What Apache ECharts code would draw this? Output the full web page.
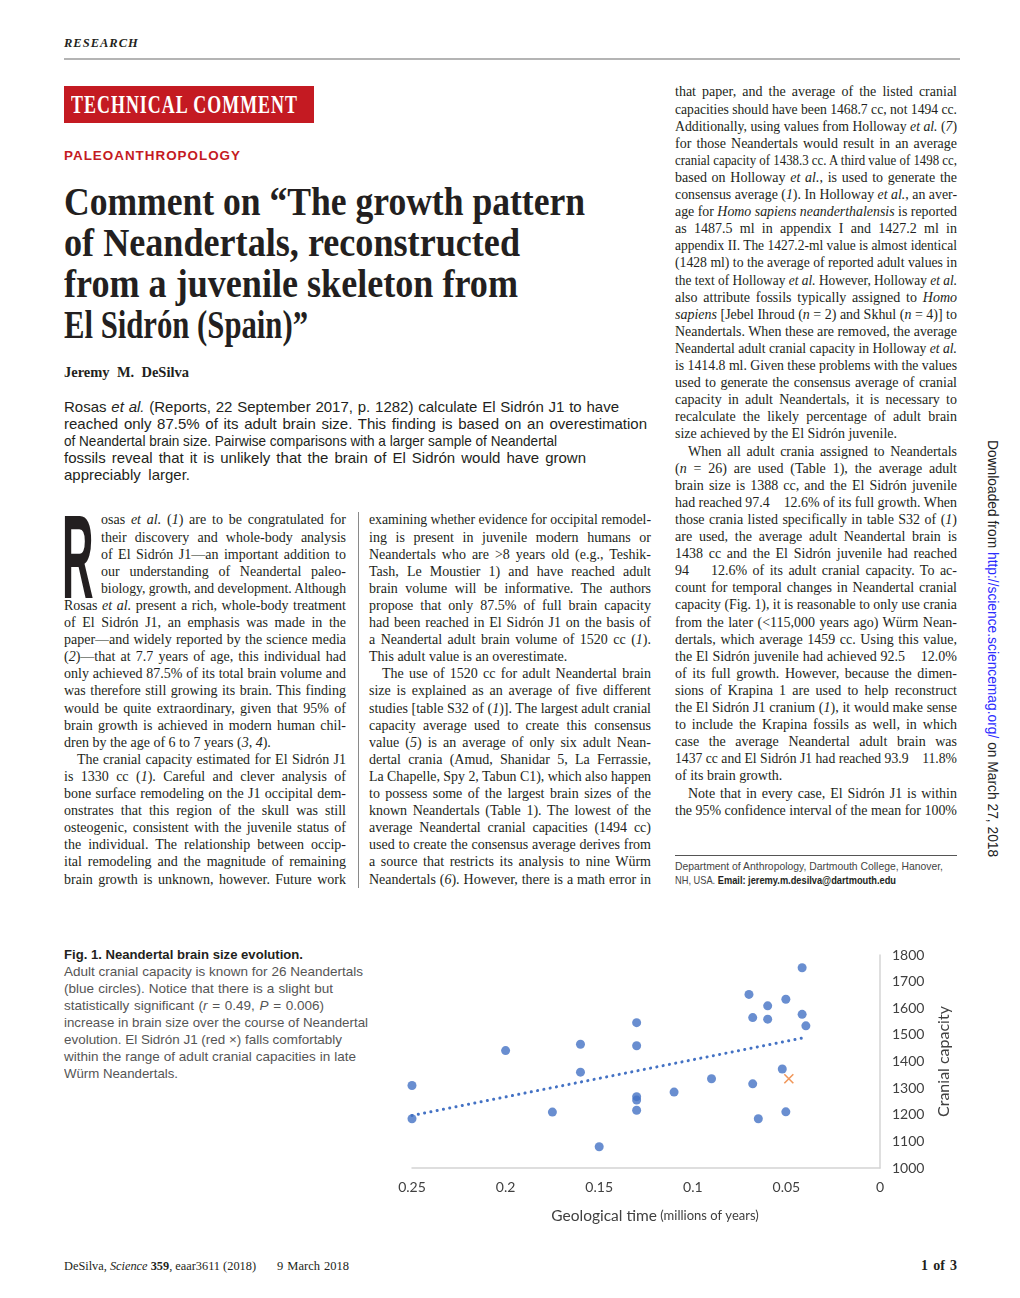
<!DOCTYPE html>
<html><head><meta charset="utf-8">
<script src="https://cdn.jsdelivr.net/npm/echarts@6/dist/echarts.min.js"></script>
<style>
html,body{margin:0;padding:0;background:#fff;}
body{width:1020px;height:1298px;position:relative;overflow:hidden;color:#231f20;}
.ln{position:absolute;white-space:nowrap;overflow:visible;}
.ln>span{white-space:pre;display:inline-block;transform-origin:0 50%;}
.serif{font-family:"Liberation Serif","DejaVu Serif",serif;}
.sans{font-family:"Liberation Sans",Arial,sans-serif;}
#chart{position:absolute;left:380px;top:930px;width:620px;height:300px;}
</style></head>
<body>
<div style="position:absolute;left:64px;top:58px;width:896px;height:2px;background:#b4b4b4"></div>
<div style="position:absolute;left:64px;top:86px;width:250px;height:37px;background:#c41a22"></div>
<div style="position:absolute;left:358px;top:512px;width:1px;height:376px;background:#8a8a8a"></div>
<div style="position:absolute;left:675px;top:855px;width:282px;height:1px;background:#555"></div>
<div class="sans" style="position:absolute;left:62px;top:518px;font-size:118px;line-height:78px;height:78px;font-weight:bold;transform:scaleX(0.37);transform-origin:0 0;color:#231f20">R</div>
<div class="sans" style="position:absolute;left:984px;top:440px;writing-mode:vertical-rl;font-size:13.8px;line-height:16px;color:#222">Downloaded from <span style="color:#2b2bff">http://science.sciencemag.org/</span> on March 27, 2018</div>
<div id="chart"></div>
<div id="text"></div>
<script>
// ---------------- chart data ----------------
const ageMyr = [0.25, 0.25, 0.2, 0.175, 0.16, 0.16, 0.15,
  0.13, 0.13, 0.13, 0.13, 0.13,
  0.11, 0.09, 0.07, 0.068, 0.068, 0.065,
  0.06, 0.06, 0.0503, 0.0522, 0.0503, 0.0416, 0.0416, 0.0396];
const cranialCapacity = [1310, 1185, 1441, 1210, 1465, 1360, 1080,
  1546, 1459, 1268, 1255, 1217,
  1285, 1335, 1652, 1565, 1316, 1185,
  1609, 1559, 1634, 1372, 1211, 1752, 1577, 1534];
const elSidronAge = [0.0487];
const elSidronCapacity = [1335];
const trendAge = [0.25, 0.0396];
const trendCapacity = [1197, 1491];
const xTicks = {min: 0, max: 0.25, interval: 0.05};
const yTicks = {min: 1000, max: 1800, interval: 100};

const chart = echarts.init(document.getElementById('chart'), null, {renderer: 'canvas'});
const lblColor = '#404040';
chart.setOption({
  animation: false,
  backgroundColor: '#fff',
  grid: {left: 32, top: 25, width: 468, height: 213},
  xAxis: {
    type: 'value', min: xTicks.min, max: xTicks.max, interval: xTicks.interval, inverse: true,
    axisLine: {show: true, onZero: false, lineStyle: {color: '#d4d4d4', width: 1.5}},
    axisTick: {show: false}, splitLine: {show: false},
    axisLabel: {color: lblColor, fontSize: 14, fontFamily: 'Lato', margin: 12, formatter: v => String(v)},
    name: '{a|Geological time} {b|(millions of years)}',
    nameLocation: 'middle', nameGap: 40,
    nameTextStyle: {padding: [0, 0, 0, 18], rich: {
      a: {fontSize: 15.5, fontFamily: 'Lato', color: lblColor},
      b: {fontSize: 13, fontFamily: 'Lato', color: lblColor}}}
  },
  yAxis: {
    type: 'value', position: 'right', min: yTicks.min, max: yTicks.max, interval: yTicks.interval,
    axisLine: {show: true, onZero: false, lineStyle: {color: '#d4d4d4', width: 1.5}},
    axisTick: {show: false}, splitLine: {show: false},
    axisLabel: {color: lblColor, fontSize: 14, fontFamily: 'Lato', margin: 12, formatter: v => String(v)},
    name: 'Cranial capacity', nameLocation: 'middle', nameGap: 50,
    nameTextStyle: {fontSize: 16, fontFamily: 'Lato', color: lblColor}
  },
  series: [
    {type: 'line', data: trendAge.map((a, i) => [a, trendCapacity[i]]), symbol: 'none', silent: true,
     lineStyle: {color: '#4472c4', width: 3, type: [0.1, 6.3], cap: 'round'}, z: 1},
    {type: 'scatter', data: ageMyr.map((a, i) => [a, cranialCapacity[i]]), symbol: 'circle', symbolSize: 9,
     itemStyle: {color: '#4472c4'}, z: 2},
    {type: 'scatter', data: elSidronAge.map((a, i) => [a, elSidronCapacity[i]]),
     symbol: 'path://M0,0L10,10M10,0L0,10', symbolSize: 9,
     itemStyle: {color: 'rgba(0,0,0,0)', borderColor: '#ed7d31', borderWidth: 1.6}, z: 3}
  ]
});

// ---------------- page text ----------------
const host = document.getElementById('text');
function line(html, left, top, width, lh, font, mode) {
  const d = document.createElement('div');
  d.className = 'ln';
  d.style.cssText = `left:${left}px;top:${top}px;width:${width}px;height:${lh}px;line-height:${lh}px;${font}`;
  d.innerHTML = `<span>${html}</span>`;
  d.dataset.mode = mode;
  host.appendChild(d);
  return d;
}
function fitAll() {
  document.querySelectorAll('.ln').forEach(d => {
    const s = d.firstChild, W = parseFloat(d.style.width);
    const nat = s.getBoundingClientRect().width;
    if (nat > W) { s.style.transform = `scaleX(${W / nat})`; }
    else if (d.dataset.mode === 'j') {
      const n = (s.textContent.match(/ /g) || []).length;
      if (n) s.style.wordSpacing = ((W - nat) / n) + 'px';
    }
  });
}
const serifBody = 'font-family:"Liberation Serif",serif;font-size:14px;color:#231f20;';
function column(lines, x, yc0, w, lh, dropLines) {
  lines.forEach((raw, i) => {
    let t = raw, indent = 0, mode = 'j';
    if (t.startsWith('>')) { indent = 13; t = t.slice(1); }
    if (t.endsWith('|')) { mode = 'l'; t = t.slice(0, -1); }
    if (i < (dropLines || 0)) indent = 37;
    line(t, x + indent, yc0 + i * lh - lh / 2, w - indent, lh, serifBody, mode);
  });
}

// header
line('RESEARCH', 64, 35, 81, 16, 'font-family:"Liberation Serif",serif;font-size:12.5px;font-weight:bold;font-style:italic;letter-spacing:1px;color:#231f20;', 'j');
line('TECHNICAL COMMENT', 71, 89, 227, 32, 'font-family:"Liberation Serif",serif;font-size:26px;font-weight:bold;letter-spacing:1.5px;color:#fff;', 'j');
line('PALEOANTHROPOLOGY', 64, 147, 177, 18, 'font-family:"Liberation Sans",sans-serif;font-size:13.5px;font-weight:bold;letter-spacing:1px;color:#c41a22;', 'j');
const titleLines = [['Comment on “The growth pattern', 521], ['of Neandertals, reconstructed', 456], ['from a juvenile skeleton from', 454], ['El Sidrón (Spain)”', 244]];
titleLines.forEach((t, i) => line(t[0], 64, 181 + i * 41, t[1], 41, 'font-family:"Liberation Serif",serif;font-size:40px;font-weight:bold;color:#231f20;', 'j'));
line('Jeremy M. DeSilva', 64, 364, 125, 17, 'font-family:"Liberation Serif",serif;font-size:14.5px;font-weight:bold;color:#231f20;', 'j');
const abstractLines = [
  ['Rosas <i>et al.</i> (Reports, 22 September 2017, p. 1282) calculate El Sidrón J1 to have', 555],
  ['reached only 87.5% of its adult brain size. This finding is based on an overestimation', 583],
  ['of Neandertal brain size. Pairwise comparisons with a larger sample of Neandertal', 493],
  ['fossils reveal that it is unlikely that the brain of El Sidrón would have grown', 522],
  ['appreciably larger.', 126]];
abstractLines.forEach((t, i) => line(t[0], 64, 397.5 + i * 17, t[1], 17, 'font-family:"Liberation Sans",sans-serif;font-size:15px;color:#231f20;', 'j'));

// body columns
const col1 = [
  'osas <i>et al.</i> (<i>1</i>) are to be congratulated for',
  'their discovery and whole-body analysis',
  'of El Sidrón J1—an important addition to',
  'our understanding of Neandertal paleo-',
  'biology, growth, and development. Although',
  'Rosas <i>et al.</i> present a rich, whole-body treatment',
  'of El Sidrón J1, an emphasis was made in the',
  'paper—and widely reported by the science media',
  '(<i>2</i>)—that at 7.7 years of age, this individual had',
  'only achieved 87.5% of its total brain volume and',
  'was therefore still growing its brain. This finding',
  'would be quite extraordinary, given that 95% of',
  'brain growth is achieved in modern human chil-',
  'dren by the age of 6 to 7 years (<i>3</i>, <i>4</i>).|',
  '>The cranial capacity estimated for El Sidrón J1',
  'is 1330 cc (<i>1</i>). Careful and clever analysis of',
  'bone surface remodeling on the J1 occipital dem-',
  'onstrates that this region of the skull was still',
  'osteogenic, consistent with the juvenile status of',
  'the individual. The relationship between occip-',
  'ital remodeling and the magnitude of remaining',
  'brain growth is unknown, however. Future work'];
const col2 = [
  'examining whether evidence for occipital remodel-',
  'ing is present in juvenile modern humans or',
  'Neandertals who are &gt;8 years old (e.g., Teshik-',
  'Tash, Le Moustier 1) and have reached adult',
  'brain volume will be informative. The authors',
  'propose that only 87.5% of full brain capacity',
  'had been reached in El Sidrón J1 on the basis of',
  'a Neandertal adult brain volume of 1520 cc (<i>1</i>).',
  'This adult value is an overestimate.|',
  '>The use of 1520 cc for adult Neandertal brain',
  'size is explained as an average of five different',
  'studies [table S32 of (<i>1</i>)]. The largest adult cranial',
  'capacity average used to create this consensus',
  'value (<i>5</i>) is an average of only six adult Nean-',
  'dertal crania (Amud, Shanidar 5, La Ferrassie,',
  'La Chapelle, Spy 2, Tabun C1), which also happen',
  'to possess some of the largest brain sizes of the',
  'known Neandertals (Table 1). The lowest of the',
  'average Neandertal cranial capacities (1494 cc)',
  'used to create the consensus average derives from',
  'a source that restricts its analysis to nine Würm',
  'Neandertals (<i>6</i>). However, there is a math error in'];
const col3 = [
  'that paper, and the average of the listed cranial',
  'capacities should have been 1468.7 cc, not 1494 cc.',
  'Additionally, using values from Holloway <i>et al.</i> (<i>7</i>)',
  'for those Neandertals would result in an average',
  'cranial capacity of 1438.3 cc. A third value of 1498 cc,',
  'based on Holloway <i>et al.</i>, is used to generate the',
  'consensus average (<i>1</i>). In Holloway <i>et al.</i>, an aver-',
  'age for <i>Homo sapiens neanderthalensis</i> is reported',
  'as 1487.5 ml in appendix I and 1427.2 ml in',
  'appendix II. The 1427.2-ml value is almost identical',
  '(1428 ml) to the average of reported adult values in',
  'the text of Holloway <i>et al.</i> However, Holloway <i>et al.</i>',
  'also attribute fossils typically assigned to <i>Homo</i>',
  '<i>sapiens</i> [Jebel Ihroud (<i>n</i> = 2) and Skhul (<i>n</i> = 4)] to',
  'Neandertals. When these are removed, the average',
  'Neandertal adult cranial capacity in Holloway <i>et al.</i>',
  'is 1414.8 ml. Given these problems with the values',
  'used to generate the consensus average of cranial',
  'capacity in adult Neandertals, it is necessary to',
  'recalculate the likely percentage of adult brain',
  'size achieved by the El Sidrón juvenile.|',
  '>When all adult crania assigned to Neandertals',
  '(<i>n</i> = 26) are used (Table 1), the average adult',
  'brain size is 1388 cc, and the El Sidrón juvenile',
  'had reached 97.4    12.6% of its full growth. When',
  'those crania listed specifically in table S32 of (<i>1</i>)',
  'are used, the average adult Neandertal brain is',
  '1438 cc and the El Sidrón juvenile had reached',
  '94    12.6% of its adult cranial capacity. To ac-',
  'count for temporal changes in Neandertal cranial',
  'capacity (Fig. 1), it is reasonable to only use crania',
  'from the later (&lt;115,000 years ago) Würm Nean-',
  'dertals, which average 1459 cc. Using this value,',
  'the El Sidrón juvenile had achieved 92.5    12.0%',
  'of its full growth. However, because the dimen-',
  'sions of Krapina 1 are used to help reconstruct',
  'the El Sidrón J1 cranium (<i>1</i>), it would make sense',
  'to include the Krapina fossils as well, in which',
  'case the average Neandertal adult brain was',
  '1437 cc and El Sidrón J1 had reached 93.9    11.8%',
  'of its brain growth.|',
  '>Note that in every case, El Sidrón J1 is within',
  'the 95% confidence interval of the mean for 100%'];
column(col1, 64, 520, 282, 17.1, 5);
column(col2, 369, 520, 282, 17.1, 0);
column(col3, 675, 92, 282, 17.1, 0);

// footnote
const fnFont = 'font-family:"Liberation Sans",sans-serif;font-size:11px;color:#444;';
line('Department of Anthropology, Dartmouth College, Hanover,', 675, 859, 268, 14, fnFont, 'j');
line('NH, USA. <b style="color:#231f20">Email: jeremy.m.desilva@dartmouth.edu</b>', 675, 873, 221, 14, fnFont, 'j');

// caption
const capFont = 'font-family:"Liberation Sans",sans-serif;font-size:13.5px;color:#555;';
const capLines = [
  ['<b style="color:#231f20">Fig. 1. Neandertal brain size evolution.</b>', 239],
  ['Adult cranial capacity is known for 26 Neandertals', 299],
  ['(blue circles). Notice that there is a slight but', 269],
  ['statistically significant (<i>r</i> = 0.49, <i>P</i> = 0.006)', 260],
  ['increase in brain size over the course of Neandertal', 304],
  ['evolution. El Sidrón J1 (red ×) falls comfortably', 278],
  ['within the range of adult cranial capacities in late', 292],
  ['Würm Neandertals.', 114]];
capLines.forEach((t, i) => line(t[0], 64, 945.5 + i * 17, t[1], 17, capFont, 'j'));

// footer
const footFont = 'font-family:"Liberation Serif",serif;font-size:12.5px;color:#231f20;';
line('DeSilva, <i>Science</i> <b>359</b>, eaar3611 (2018)', 64, 1258, 192, 16, footFont, 'j');
line('9 March 2018', 277, 1258, 72, 16, footFont, 'j');
line('<b>1 of 3</b>', 921, 1258, 36, 16, 'font-family:"Liberation Serif",serif;font-size:14px;color:#231f20;', 'j');

fitAll();
</script>
</body></html>
